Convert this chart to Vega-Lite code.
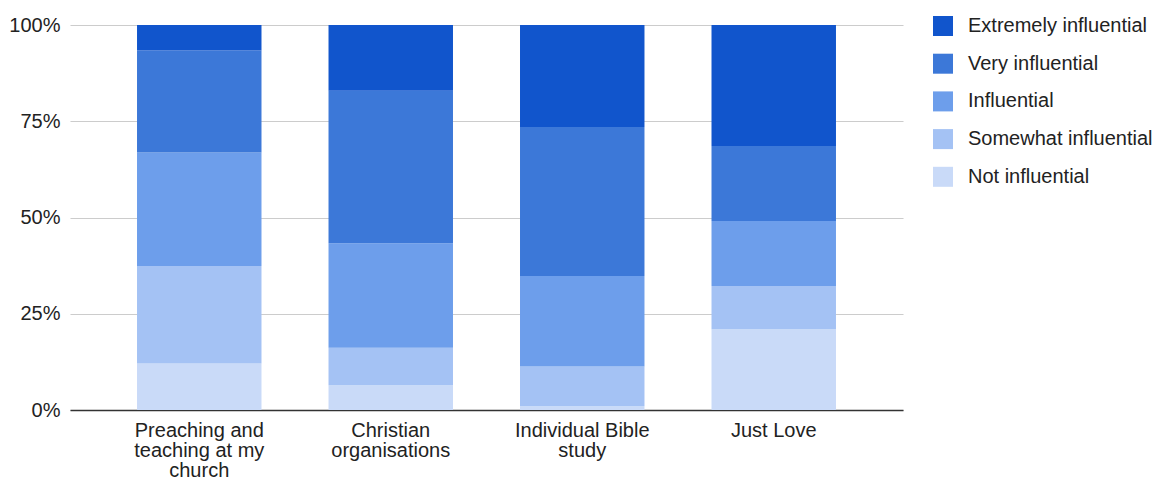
{
  "$schema": "https://vega.github.io/schema/vega-lite/v6.json",
  "width": 833,
  "height": 385,
  "autosize": {"type": "none"},
  "padding": {"left": 70, "top": 25, "right": 259, "bottom": 67},
  "background": "white",
  "config": {
    "font": "Liberation Sans",
    "view": {"stroke": null}
  },
  "data": {
    "values": [
      {"source": "Preaching and teaching at my church", "level": "Not influential", "pct": 12.1},
      {"source": "Preaching and teaching at my church", "level": "Somewhat influential", "pct": 25.3},
      {"source": "Preaching and teaching at my church", "level": "Influential", "pct": 29.5},
      {"source": "Preaching and teaching at my church", "level": "Very influential", "pct": 26.5},
      {"source": "Preaching and teaching at my church", "level": "Extremely influential", "pct": 6.6},
      {"source": "Christian organisations", "level": "Not influential", "pct": 6.4},
      {"source": "Christian organisations", "level": "Somewhat influential", "pct": 9.8},
      {"source": "Christian organisations", "level": "Influential", "pct": 27.1},
      {"source": "Christian organisations", "level": "Very influential", "pct": 39.6},
      {"source": "Christian organisations", "level": "Extremely influential", "pct": 17.1},
      {"source": "Individual Bible study", "level": "Not influential", "pct": 1.0},
      {"source": "Individual Bible study", "level": "Somewhat influential", "pct": 10.3},
      {"source": "Individual Bible study", "level": "Influential", "pct": 23.5},
      {"source": "Individual Bible study", "level": "Very influential", "pct": 38.7},
      {"source": "Individual Bible study", "level": "Extremely influential", "pct": 26.5},
      {"source": "Just Love", "level": "Not influential", "pct": 21.0},
      {"source": "Just Love", "level": "Somewhat influential", "pct": 11.2},
      {"source": "Just Love", "level": "Influential", "pct": 16.9},
      {"source": "Just Love", "level": "Very influential", "pct": 19.5},
      {"source": "Just Love", "level": "Extremely influential", "pct": 31.4}
    ]
  },
  "transform": [
    {"calculate": "indexof(['Not influential', 'Somewhat influential', 'Influential', 'Very influential', 'Extremely influential'], datum.level)", "as": "stack_rank"}
  ],
  "mark": {"type": "bar"},
  "encoding": {
    "x": {
      "field": "source",
      "type": "nominal",
      "sort": null,
      "scale": {"paddingInner": 0.35, "paddingOuter": 0.35},
      "axis": {
        "title": null,
        "labelAngle": 0,
        "labelFontSize": 20,
        "labelColor": "#222",
        "labelLineHeight": 20,
        "labelPadding": 10,
        "labelBaseline": "top",
        "ticks": false,
        "domainColor": "#333",
        "domainWidth": 1.5,
        "labelLimit": 300,
        "labelExpr": "datum.value == 'Preaching and teaching at my church' ? ['Preaching and', 'teaching at my', 'church'] : datum.value == 'Christian organisations' ? ['Christian', 'organisations'] : datum.value == 'Individual Bible study' ? ['Individual Bible', 'study'] : datum.value"
      }
    },
    "y": {
      "field": "pct",
      "type": "quantitative",
      "stack": "normalize",
      "scale": {"domain": [0, 1], "nice": false},
      "axis": {
        "title": null,
        "values": [0, 0.25, 0.5, 0.75, 1],
        "format": ".0%",
        "labelFontSize": 20,
        "labelColor": "#222",
        "labelPadding": 10,
        "ticks": false,
        "domain": false,
        "gridColor": "#cccccc",
        "gridWidth": 1.2
      }
    },
    "order": {"field": "stack_rank", "type": "quantitative", "sort": "ascending"},
    "color": {
      "field": "level",
      "type": "nominal",
      "scale": {
        "domain": ["Extremely influential", "Very influential", "Influential", "Somewhat influential", "Not influential"],
        "range": ["#1155cc", "#3c78d8", "#6d9eeb", "#a4c2f4", "#c9daf8"]
      },
      "legend": {
        "title": null,
        "orient": "none",
        "legendX": 863,
        "legendY": -9,
        "padding": 0,
        "symbolType": "square",
        "symbolSize": 400,
        "symbolStrokeWidth": 0,
        "symbolOpacity": 1,
        "labelFontSize": 20,
        "labelColor": "#222",
        "labelOffset": 15,
        "rowPadding": 17.7,
        "labelLimit": 300
      }
    }
  }
}
